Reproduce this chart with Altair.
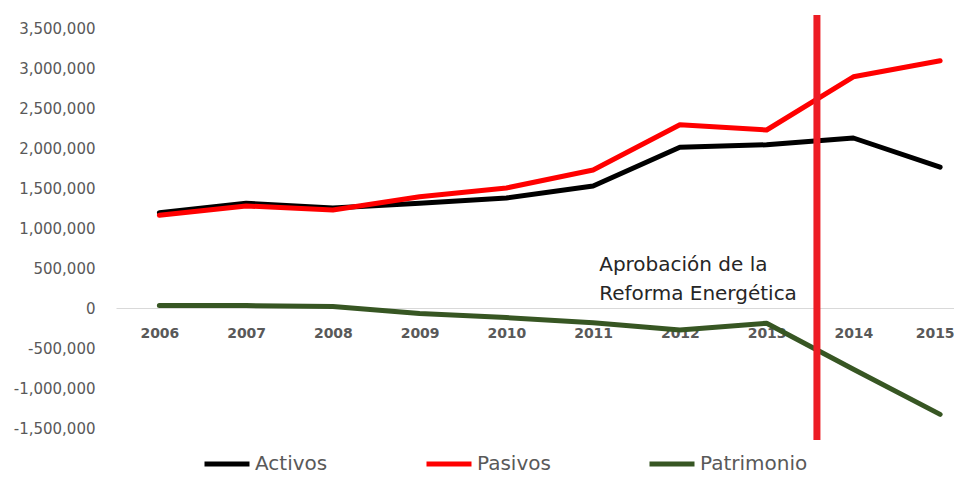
import altair as alt
import pandas as pd

years = [2006, 2007, 2008, 2009, 2010, 2011, 2012, 2013, 2014, 2015]
activos = [1190000, 1310000, 1250000, 1310000, 1375000, 1525000, 2010000, 2040000, 2125000, 1760000]
pasivos = [1160000, 1275000, 1225000, 1390000, 1500000, 1725000, 2290000, 2225000, 2890000, 3090000]
patrimonio = [30000, 30000, 20000, -70000, -120000, -185000, -275000, -190000, -765000, -1330000]
series = ["Activos", "Pasivos", "Patrimonio"]
colors = ["#000000", "#FF0000", "#375623"]
reform_year = [2013.58]
note_lines = ["Aprobación de la", "Reforma Energética"]
y_ticks = [-1500000, -1000000, -500000, 0, 500000, 1000000, 1500000, 2000000, 2500000, 3000000, 3500000]

rows = []
for name, vals in zip(series, [activos, pasivos, patrimonio]):
    for yr, v in zip(years, vals):
        rows.append({"year": yr, "value": v, "serie": name})
df = pd.DataFrame(rows)
reform_df = pd.DataFrame({"year": reform_year})
note_df = pd.DataFrame({"year": [2011.07], "value": [662500], "text": [note_lines]})

FONT = "DejaVu Sans"
GRAY = "#595959"

xscale = alt.Scale(domain=[2005.5, 2015.16], nice=False, zero=False)
yscale = alt.Scale(domain=[-1650000, 3662500], nice=False, zero=False)

lines = alt.Chart(df).mark_line(strokeWidth=5, strokeCap="round", strokeJoin="round").encode(
    x=alt.X("year:Q", scale=xscale,
            axis=alt.Axis(values=years, format="d", title=None, ticks=False, grid=False,
                          domainColor="#D9D9D9", domainWidth=1, offset=-132,
                          labelFont=FONT, labelFontSize=14, labelFontWeight="bold",
                          labelColor=GRAY, labelPadding=18,
                          labelAlign={"expr": "datum.value == 2015 ? 'right' : 'center'"},
                          labelOffset={"expr": "datum.value == 2015 ? 14 : 0"})),
    y=alt.Y("value:Q", scale=yscale,
            axis=alt.Axis(values=y_ticks, title=None, ticks=False, grid=False,
                          labelExpr="(datum.value < 0 ? '-' : '') + format(abs(datum.value), ',.0f')",
                          domain=False, labelFont=FONT, labelFontSize=15,
                          labelColor=GRAY, labelPadding=21)),
    color=alt.Color("serie:N", scale=alt.Scale(domain=series, range=colors),
                    legend=alt.Legend(title=None, orient="none", direction="horizontal",
                                      legendX=86, legendY=424, symbolType="stroke",
                                      symbolSize=2025, symbolStrokeWidth=5,
                                      labelFont=FONT, labelFontSize=20, labelColor=GRAY,
                                      labelOffset=3, columnPadding=88)),
)

rule = alt.Chart(reform_df).mark_rule(color="#ED1C24", strokeWidth=7).encode(
    x=alt.X("year:Q", scale=xscale)
)

note = alt.Chart(note_df).mark_text(align="left", baseline="top", fontSize=20,
                                    lineHeight=29, font=FONT, color="#262626").encode(
    x=alt.X("year:Q", scale=xscale),
    y=alt.Y("value:Q", scale=yscale),
    text="text",
)

chart = alt.layer(lines, rule, note).properties(
    width=838, height=425,
    autosize=alt.AutoSizeParams(type="none"),
    padding={"left": 108, "top": 7, "right": 0, "bottom": 37},
).configure_view(stroke=None)

chart.save("out.html", embed_options={"renderer": "svg", "actions": False})
